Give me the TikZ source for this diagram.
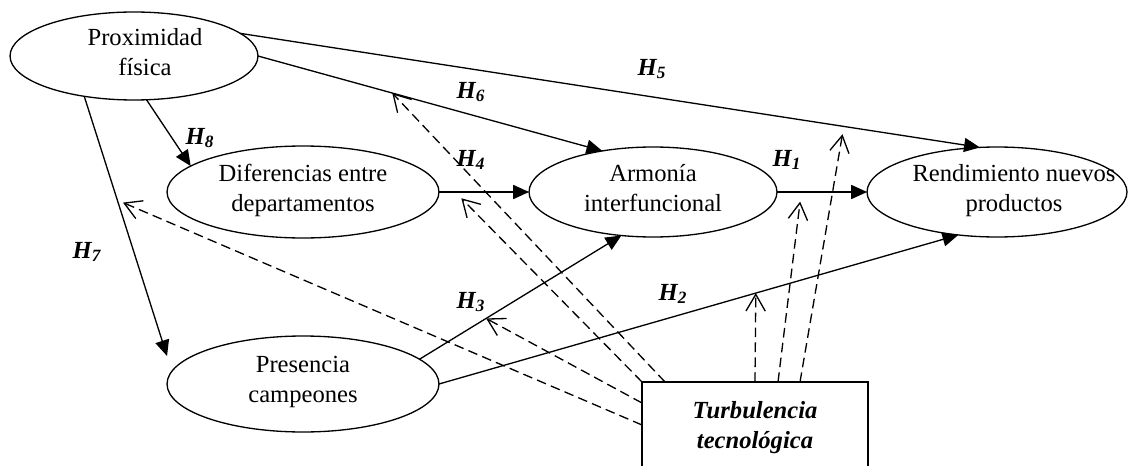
\documentclass[tikz,border=0pt]{standalone}
\usepackage{fontspec}
\setmainfont{Liberation Serif}
\usetikzlibrary{shapes.geometric,arrows.meta}

\begin{document}
\begin{tikzpicture}[x=0.02cm,y=-0.02cm,
	elli/.style={ellipse,draw,line width=0.75pt,inner xsep=-20pt,inner ysep=-4pt,outer sep=0pt,align=center,font=\fontsize{14}{17}\selectfont,execute at end node={\rule[-5pt]{0pt}{0pt}}},
	hyp/.style={line width=0.75pt,-{Triangle[length=9pt,width=8pt]}},
	mod/.style={line width=0.75pt,dash pattern=on 5.5pt off 3pt,-{Straight Barb[length=9.5pt,width=11pt]}},
	hlab/.style={font=\fontsize{14}{17}\selectfont\bfseries\itshape}]

		\useasboundingbox (0,0) rectangle (1128,466);

		\node[elli,minimum width=4.96cm,minimum height=1.76cm] (prox) at (134,56) {\hspace*{0.44cm}Proximidad\\\hspace*{0.44cm}física};
		\node[elli,minimum width=5.44cm,minimum height=1.84cm] (dif) at (303,192) {Diferencias entre\\departamentos};
		\node[elli,minimum width=4.96cm,minimum height=1.8cm] (arm) at (653,192) {Armonía\\interfuncional};
		\node[elli,minimum width=5.2cm,minimum height=1.8cm] (rend) at (997,192) {\hspace*{0.68cm}Rendimiento nuevos\\\hspace*{0.68cm}productos};
		\node[elli,minimum width=5.44cm,minimum height=1.92cm] (pres) at (303,384) {Presencia\\campeones};
		\node[draw,line width=0.75pt,anchor=north,minimum width=4.52cm,inner ysep=11pt,outer sep=0pt,text depth=2cm,align=center,font=\fontsize{14}{17}\selectfont\bfseries\itshape] (turb) at (755,382) {Turbulencia\\tecnológica};

		\draw[hyp] (prox.east) -- coordinate[pos=0.39] (m6) (arm.141);
		\draw[hyp] (prox.12) -- coordinate[pos=0.816] (m5) (rend.111);
		\draw[hyp] (prox.-74) -- (dif.167);
		\draw[hyp] (prox.-141) -- coordinate[pos=0.4] (m7) ([shift={(0,-28)}]pres.west);
		\draw[hyp] (dif.east) -- coordinate[pos=0.18] (m4) (arm.west);
		\draw[hyp] (arm.east) -- coordinate[pos=0.27] (m1) (rend.west);
		\draw[hyp] (pres.12) -- coordinate[pos=0.33] (m3) (arm.-126);
		\draw[hyp] (pres.east) -- coordinate[pos=0.61] (m2) (rend.-132);

		\draw[mod] ([shift={(23,0)}]turb.north west) -- (m6);
		\draw[mod,shorten >=5pt] (turb.north west) -- (m4);
		\draw[mod] ([shift={(0,21)}]turb.north west) -- (m3);
		\draw[mod,shorten >=3.5pt] ([shift={(0,43)}]turb.north west) -- (m7);
		\draw[mod] (turb.north) -- (m2);
		\draw[mod,shorten >=5.5pt] ([shift={(23,0)}]turb.north) -- (m1);
		\draw[mod,shorten >=4.5pt] ([shift={(45,0)}]turb.north) -- (m5);

		\node[hlab] (h5) at (652,69) {H\textsubscript{5}};
		\node[hlab] (h6) at (471,92) {H\textsubscript{6}};
		\node[hlab] (h4) at (471,160) {H\textsubscript{4}};
		\node[hlab] (h1) at (787,160) {H\textsubscript{1}};
		\node[hlab] (h8) at (200,138) {H\textsubscript{8}};
		\node[hlab] (h7) at (87,252) {H\textsubscript{7}};
		\node[hlab] (h3) at (471,302) {H\textsubscript{3}};
		\node[hlab] (h2) at (673,294) {H\textsubscript{2}};

	\end{tikzpicture}
\end{document}
